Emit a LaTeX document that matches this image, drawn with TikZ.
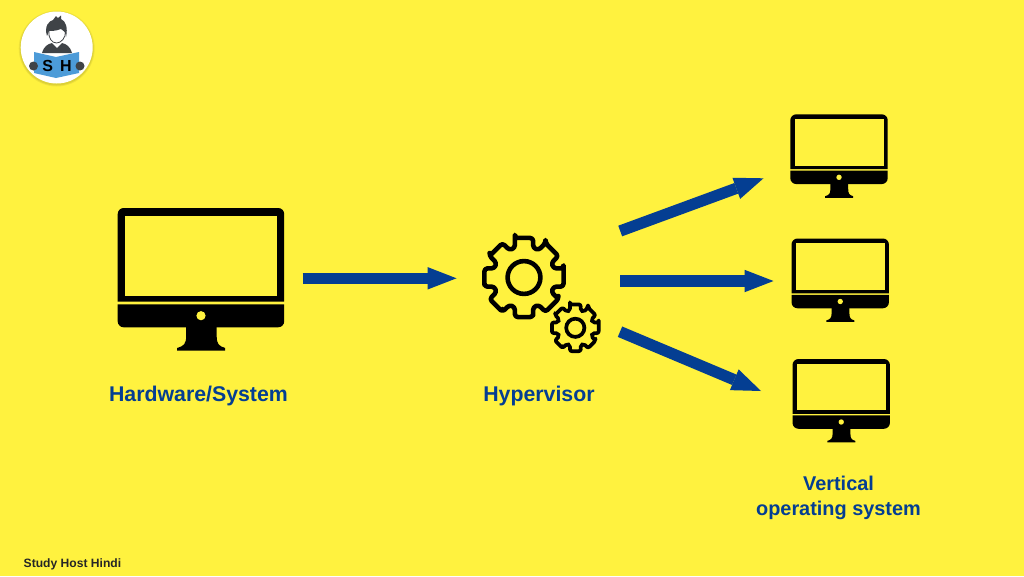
\documentclass[tikz,border=0pt]{standalone}
\usepackage{fontspec}
\setmainfont{Liberation Sans}
\usetikzlibrary{arrows.meta}
\definecolor{bgy}{HTML}{FFF23F}
\definecolor{navy}{HTML}{043E92}
\definecolor{hair}{HTML}{3F4347}
\definecolor{bookb}{HTML}{4C9BD8}
\tikzset{
  x=1pt,y=-1pt,
  flow/.style={draw=navy,line width=11.3pt,-{Triangle[length=29pt,width=22.5pt,line width=0pt]}},
  lab/.style={text=navy,font=\fontsize{21.3}{25}\selectfont\bfseries,align=center,inner sep=0pt},
  labb/.style={text=navy,font=\fontsize{19.9}{25}\selectfont\bfseries,align=center,inner sep=0pt},
  foot/.style={text=black!85,font=\fontsize{12.1}{15}\selectfont\bfseries,inner sep=0pt,anchor=west},
  logotxt/.style={inner sep=0pt,font=\fontsize{16}{16}\selectfont\bfseries,text=black},
  pics/monitor/.style={code={
    \fill[black,rounded corners=6pt] (0,50) -- (0,0) -- (166.5,0) -- (166.5,50) [sharp corners] -- (166.5,93.7) -- (0,93.7) -- cycle;
    \fill[bgy] (7.6,7.7) rectangle (159.3,87.7);
    \fill[black,rounded corners=6pt] (0,96.3) [sharp corners] -- (166.5,96.3) [rounded corners=6pt] -- (166.5,119.3) -- (0,119.3) [sharp corners] -- cycle;
    \fill[black] (68.5,119) -- (99,119) -- (99,128) .. controls (99,136) and (101,138) .. (107.5,140) -- (107.5,142.7) -- (59.5,142.7) -- (59.5,140) .. controls (66,138) and (68.5,136) .. (68.5,128) -- cycle;
    \fill[bgy] (83.3,107.7) circle (4.6);
  }}
}
\newcommand{\gearpath}[3]{% outer, root, corner radius
  \draw[line join=round,rounded corners=#3] (90-13:#1)
   foreach \a in {0,45,...,315}{ -- (90+\a-13:#1) -- (90+\a+13:#1) -- (90+\a+17:#2) -- (90+\a+28:#2) -- (90+\a+32:#1)} -- cycle;
}
\begin{document}
\begin{tikzpicture}
\useasboundingbox (0,0) rectangle (1024,576);
\fill[bgy] (0,0) rectangle (1024,576);

% logo
\fill[black,opacity=.06] (56.7,48.5) circle (38);
\fill[black,opacity=.08] (56.7,48.5) circle (37);
\node[circle,fill=white,minimum size=72pt,inner sep=0pt] (logo) at (56.7,47.5) {};
\fill[hair] (42,53) .. controls (44,46) and (48,44) .. (52,43) -- (57,48) -- (62,43) .. controls (66,44) and (70,46) .. (72,53) -- cycle;
\fill[hair] (47,36) .. controls (44,26) and (49,21) .. (53,20) -- (56,16) -- (58,18) -- (61,15.5) -- (61,19) .. controls (66,21) and (68,28) .. (66,37) .. controls (66,33) and (64,30) .. (61,29) .. controls (56,31) and (51,31) .. (49,31) .. controls (48,33) and (48,35) .. (47,36) -- cycle;
\draw[hair,line width=.8pt] (49,31) .. controls (48,38) and (52,43) .. (56.5,43) .. controls (61,43) and (66,38) .. (65.5,31);
\fill[bookb] (34,52) -- (56,57) -- (79,52) -- (79,73) -- (56,78) -- (34,73) -- cycle;
\fill[hair] (33.5,66) circle (4.5);
\fill[hair] (80,66) circle (4.5);
\node[logotxt] (logoS) at (47.7,66) {S};
\node[logotxt] (logoH) at (66,66) {H};

% monitors
\pic at (117.7,208) {monitor};
\pic[scale=.585,transform shape] at (790.3,114.3) {monitor};
\pic[scale=.585,transform shape] at (791.5,238.5) {monitor};
\pic[scale=.585,transform shape] at (792.5,359) {monitor};

% gears
\begin{scope}[shift={(524,277.5)},line width=4.6pt,draw=black]
\gearpath{40.6}{31}{3pt}
\draw (0,0) circle (16.4);
\end{scope}
\begin{scope}[shift={(575.3,327.8)},line width=3.7pt,draw=black]
\gearpath{24}{18}{2pt}
\draw (0,0) circle (9.1);
\end{scope}

% arrows
\coordinate (a1s) at (302.7,278.3);  \coordinate (a1e) at (456.5,278.3);
\coordinate (a2s) at (620.2,231);    \coordinate (a2e) at (763.5,178.3);
\coordinate (a3s) at (620,281);      \coordinate (a3e) at (773.5,281);
\coordinate (a4s) at (620,331.7);    \coordinate (a4e) at (761,391);
\draw[flow] (a1s) -- (a1e);
\draw[flow] (a2s) -- (a2e);
\draw[flow] (a3s) -- (a3e);
\draw[flow] (a4s) -- (a4e);

% labels
\node[lab] (hw) at (198.5,395.5) {Hardware/System};
\node[lab] (hv) at (539,395.5) {Hypervisor};
\node[labb] (vos) at (838.5,497.5) {Vertical\\operating system};
\node[foot] (ft) at (23.5,564) {Study Host Hindi};
\end{tikzpicture}
\end{document}
